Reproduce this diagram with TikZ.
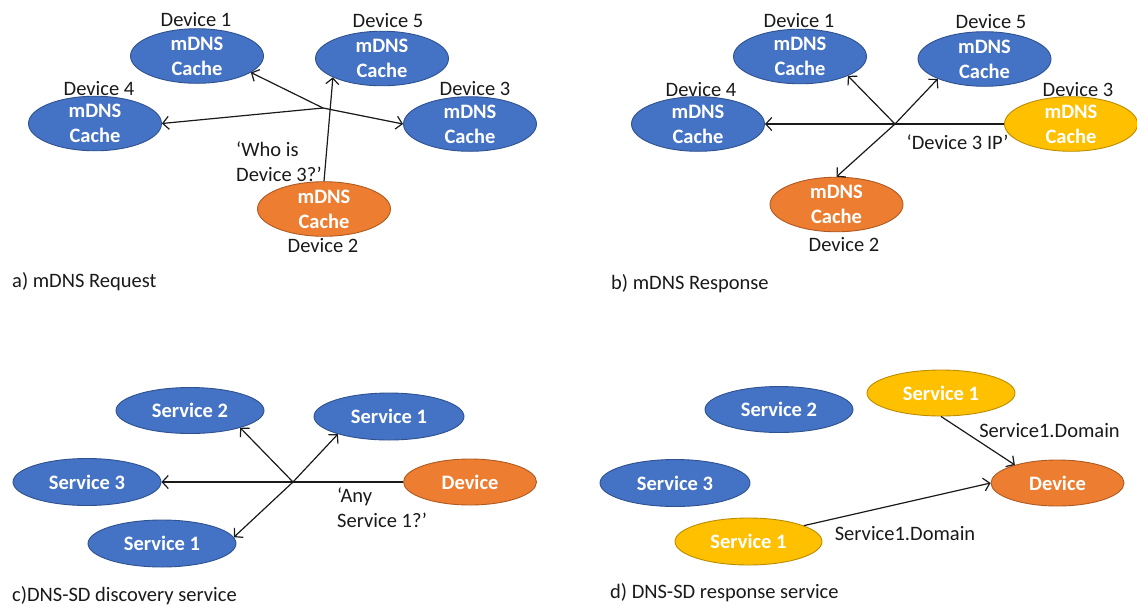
\documentclass[tikz,border=0pt]{standalone}
\usepackage{fontspec}
\setmainfont{Carlito}
\usetikzlibrary{shapes.geometric,arrows.meta}
\definecolor{bfill}{HTML}{4472C4}
\definecolor{bline}{HTML}{2F528F}
\definecolor{ofill}{HTML}{ED7D31}
\definecolor{oline}{HTML}{AE5A21}
\definecolor{yfill}{HTML}{FFC000}
\definecolor{yline}{HTML}{BC8C00}
\definecolor{txt}{HTML}{1A1A1A}
\begin{document}
\begin{tikzpicture}[x=1pt,y=-1pt,
  ell/.style={ellipse, minimum width=133pt, minimum height=48pt, inner sep=0pt,
    line width=0.9pt, text=white, align=center,
    font=\fontsize{20.5}{25}\selectfont\bfseries},
  bnode/.style={ell, fill=bfill, draw=bline},
  onode/.style={ell, fill=ofill, draw=oline},
  ynode/.style={ell, fill=yfill, draw=yline},
  lbl/.style={inner sep=0pt, text=txt, align=left, font=\fontsize{20.5}{25}\selectfont},
  arr/.style={-{Straight Barb[length=6pt,width=13pt]}, line width=1.2pt, draw=txt}
]
\path[use as bounding box, fill=white] (0,0) rectangle (1137,608);

% ---------- a) mDNS Request ----------
\node[bnode] (a1) at (197,56) {mDNS\\Cache};
\node[bnode] (a5) at (382,58.5) {mDNS\\Cache};
\node[bnode] (a4) at (95,123.5) {mDNS\\Cache};
\node[bnode] (a3) at (470,124) {mDNS\\Cache};
\node[onode] (a2) at (324,209) {mDNS\\Cache};
\node[lbl] (la1) at (196,20) {Device 1};
\node[lbl] (la5) at (388,21) {Device 5};
\node[lbl] (la4) at (99,89) {Device 4};
\node[lbl] (la3) at (475,89) {Device 3};
\node[lbl] (la2) at (323,246) {Device 2};
\coordinate (ha) at (323,108);
\draw[arr] (ha) -- (a1.343);
\draw[arr] (ha) -- (a4.east);
\draw[arr] (ha) -- (a3.west);
\draw[arr] (a2.north) -- (a5.201);
\node[lbl, anchor=west] (qa) at (236,162) {‘Who is\\Device 3?’};
\node[lbl, anchor=west] (ca) at (12,282) {a) mDNS Request};

% ---------- b) mDNS Response ----------
\node[bnode] (b1) at (800,56.5) {mDNS\\Cache};
\node[bnode] (b5) at (984.5,59) {mDNS\\Cache};
\node[bnode] (b4) at (698,124) {mDNS\\Cache};
\node[ynode] (b3) at (1071,124) {mDNS\\Cache};
\node[onode] (b2) at (836.5,204.5) {mDNS\\Cache};
\node[lbl] (lb1) at (799,21) {Device 1};
\node[lbl] (lb5) at (991,22) {Device 5};
\node[lbl] (lb4) at (701,90) {Device 4};
\node[lbl] (lb3) at (1078,90) {Device 3};
\node[lbl] (lb2) at (844,245) {Device 2};
\coordinate (hb) at (895,124);
\draw[arr] (b3.west) -- (b4.east);
\draw[arr] (hb) -- (b1.338);
\draw[arr] (hb) -- (b5.203);
\draw[arr] (hb) -- (b2.north);
\node[lbl] (qb) at (957.5,142) {‘Device 3 IP’};
\node[lbl, anchor=west] (cb) at (611,284) {b) mDNS Response};

% ---------- c) DNS-SD discovery service ----------
\node[bnode, minimum width=148pt, minimum height=46pt] (c2) at (190,410.5) {Service 2};
\node[bnode, minimum width=150pt, minimum height=47pt] (c1t) at (389,416.5) {Service 1};
\node[bnode, minimum width=148pt, minimum height=47pt] (c3) at (87,482) {Service 3};
\node[bnode, minimum width=148pt, minimum height=47pt] (c1b) at (162,543.5) {Service 1};
\node[onode, minimum width=133pt, minimum height=46pt] (cd) at (470,482) {Device};
\coordinate (hc) at (293,482);
\draw[arr] (cd.west) -- (c3.east);
\draw[arr] (hc) -- (c2.341);
\draw[arr] (hc) -- (c1t.199);
\draw[arr] (hc) -- (c1b.5);
\node[lbl, anchor=west] (qc) at (337,508) {‘Any\\Service 1?’};
\node[lbl, anchor=west] (cc) at (12,596) {c)DNS-SD discovery service};

% ---------- d) DNS-SD response service ----------
\node[ynode, minimum width=148pt, minimum height=46pt] (d1t) at (941,393) {Service 1};
\node[bnode, minimum width=148pt, minimum height=46pt] (d2) at (779,409.5) {Service 2};
\node[bnode, minimum width=150pt, minimum height=47pt] (d3) at (675,483) {Service 3};
\node[ynode, minimum width=147pt, minimum height=47pt] (d1b) at (748.5,541.5) {Service 1};
\node[onode, minimum width=133pt, minimum height=46pt] (dd) at (1057.5,483) {Device};
\draw[arr] (d1t.south) -- (dd.157);
\draw[arr] (d1b.16) -- (dd.west);
\node[lbl] (rd1) at (1049.5,431) {Service1.Domain};
\node[lbl] (rd2) at (905,534) {Service1.Domain};
\node[lbl, anchor=west] (cdl) at (610,593) {d) DNS-SD response service};
\end{tikzpicture}
\end{document}
